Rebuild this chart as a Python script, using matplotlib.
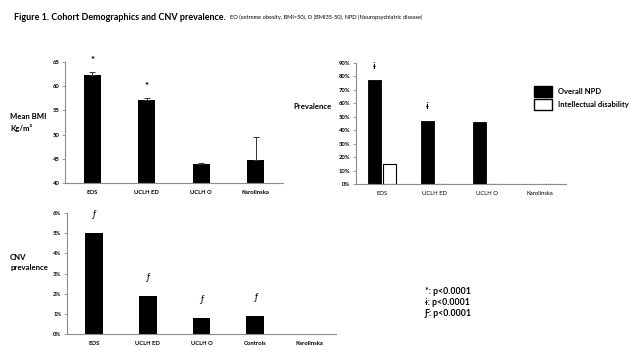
import numpy as np
import matplotlib.pyplot as plt
from matplotlib.patches import Patch

plt.rcParams['font.family'] = ['Lato', 'DejaVu Sans']

# --- data ---
bmi_groups = ['EOS', 'UCLH ED', 'UCLH O', 'Karolinska']
bmi_mean = [62.3, 57.2, 44.0, 44.7]
bmi_err = [0.7, 0.4, 0.2, 4.7]
bmi_marks = ['*', '*', '', '']

npd_groups = ['EOS', 'UCLH ED', 'UCLH O', 'Karolinska']
npd_overall = [0.77, 0.47, 0.46, 0.0]
npd_intellectual = [0.15, 0.0, 0.0, 0.0]
npd_marks = ['ɨ', 'ɨ', '', '']

cnv_groups = ['EOS', 'UCLH ED', 'UCLH O', 'Controls', 'Karolinska']
cnv_prev = [0.050, 0.019, 0.008, 0.009, 0.0]
cnv_marks = ['ƒ', 'ƒ', 'ƒ', 'ƒ', '']

SPINE = '#8c8c8c'


def style_axis(ax):
    for s in ['top', 'right']:
        ax.spines[s].set_visible(False)
    for s in ['left', 'bottom']:
        ax.spines[s].set_color(SPINE)
        ax.spines[s].set_linewidth(0.8)
    ax.tick_params(axis='x', length=0, labelsize=4.2, pad=5)
    ax.tick_params(axis='y', length=2, width=0.6, color=SPINE, labelsize=4.2, pad=2)
    for lbl in ax.get_xticklabels() + ax.get_yticklabels():
        lbl.set_fontweight('bold')


fig = plt.figure(figsize=(6.4, 3.6), dpi=100)

fig.text(0.022, 0.952, 'Figure 1. Cohort Demographics and CNV prevalence.',
         fontsize=6.5, fontweight='bold', va='center')
fig.text(0.36, 0.952, 'EO (extreme obesity, BMI>50), O (BMI35-50), NPD (Neuropsychiatric disease)',
         fontsize=4.1, va='center')

# --- mean BMI ---
ax1 = fig.add_axes([0.1016, 0.4917, 0.3406, 0.3361])
x1 = np.arange(len(bmi_groups))
ax1.bar(x1, bmi_mean, width=0.31, color='black',
        yerr=[np.zeros(len(bmi_err)), bmi_err],
        error_kw=dict(ecolor='#333333', elinewidth=0.7, capsize=2, capthick=0.7))
ax1.set_ylim(40, 65)
ax1.set_yticks([40, 45, 50, 55, 60, 65])
ax1.set_xlim(-0.5, len(bmi_groups) - 0.5)
ax1.set_xticks(x1)
ax1.set_xticklabels(bmi_groups)
style_axis(ax1)
for i, m in enumerate(bmi_marks):
    if m:
        ax1.text(x1[i], bmi_mean[i] + bmi_err[i] + 2.3, m, ha='center', va='center',
                 fontsize=7, fontweight='bold', clip_on=False)
fig.text(0.016, 0.66, 'Mean BMI\nKg/m²', fontsize=5.6, fontweight='bold', va='center',
         linespacing=1.5)

# --- NPD prevalence ---
ax2 = fig.add_axes([0.5563, 0.4889, 0.328, 0.3361])
x2 = np.arange(len(npd_groups))
ax2.bar(x2 - 0.145, npd_overall, width=0.25, color='black', edgecolor='black', linewidth=0.6)
ax2.bar(x2 + 0.145, npd_intellectual, width=0.25, color='white', edgecolor='black',
        linewidth=0.8)
ax2.set_ylim(0, 0.9)
ax2.set_yticks(np.arange(0, 0.91, 0.1))
ax2.set_yticklabels([f'{int(round(v * 100))}%' for v in np.arange(0, 0.91, 0.1)])
ax2.set_xlim(-0.5, len(npd_groups) - 0.5)
ax2.set_xticks(x2)
ax2.set_xticklabels(npd_groups)
style_axis(ax2)
for lbl in ax2.get_xticklabels():
    lbl.set_fontweight('normal')
for i, m in enumerate(npd_marks):
    if m:
        ax2.text(x2[i] - 0.145, npd_overall[i] + 0.105, m, ha='center', va='center',
                 fontsize=6.5, fontweight='bold')
fig.text(0.458, 0.703, 'Prevalence', fontsize=5.6, fontweight='bold', va='center')
handles = [Patch(facecolor='black', edgecolor='black', label='Overall NPD'),
           Patch(facecolor='white', edgecolor='black', label='Intellectual disability')]
fig.legend(handles=handles, loc='upper left', bbox_to_anchor=(0.823, 0.78),
           frameon=False, handlelength=2.4, handleheight=1.9,
           handletextpad=0.8, labelspacing=0.15, prop={'weight': 'bold', 'size': 5.5})

# --- CNV prevalence ---
ax3 = fig.add_axes([0.1047, 0.0722, 0.4203, 0.3361])
x3 = np.arange(len(cnv_groups))
ax3.bar(x3, cnv_prev, width=0.33, color='black')
ax3.set_ylim(0, 0.06)
ax3.set_yticks(np.arange(0, 0.061, 0.01))
ax3.set_yticklabels([f'{int(round(v * 100))}%' for v in np.arange(0, 0.061, 0.01)])
ax3.set_xlim(-0.5, len(cnv_groups) - 0.5)
ax3.set_xticks(x3)
ax3.set_xticklabels(cnv_groups)
style_axis(ax3)
for i, m in enumerate(cnv_marks):
    if m:
        ax3.text(x3[i], cnv_prev[i] + 0.0095, m, ha='center', va='center',
                 fontsize=7, fontstyle='italic', clip_on=False)
fig.text(0.016, 0.27, 'CNV\nprevalence', fontsize=5.6, fontweight='bold', va='center',
         linespacing=1.5)

# --- footnotes ---
notes = ['*: p<0.0001', 'ɨ: p<0.0001', 'Ƒ: p<0.0001']
for k, note in enumerate(notes):
    fig.text(0.664, 0.19 - k * 0.031, note, fontsize=6.3, fontweight='bold', va='center')

fig.savefig('out.png', dpi=100)
